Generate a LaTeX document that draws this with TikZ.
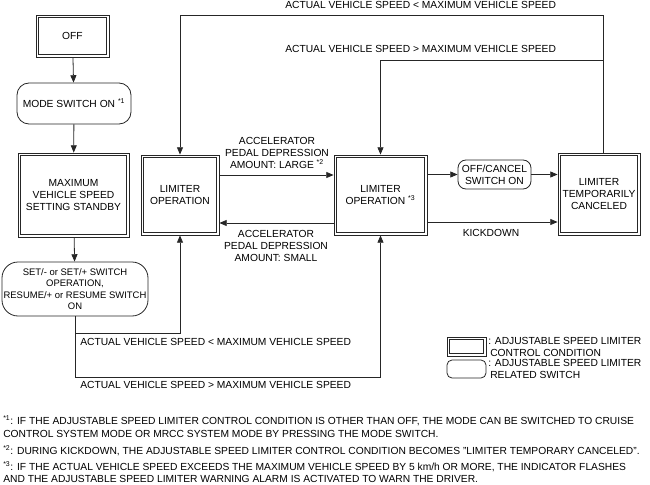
\documentclass[tikz,border=0pt]{standalone}
\usepackage{fontspec}
\setmainfont{Liberation Sans}
\usetikzlibrary{arrows.meta,calc}
\newcommand{\fnm}[1]{\textsuperscript{\fontsize{5.2pt}{5.2pt}\selectfont *#1}}
\begin{document}
\begin{tikzpicture}[x=0.75pt,y=-0.75pt,
  every node/.style={font=\fontsize{7.7pt}{8.8pt}\selectfont, text=black, inner sep=0pt},
  sz/.style 2 args={minimum width=#1*0.75pt, minimum height=#2*0.75pt},
  cond/.style={draw=black!85, line width=0.6pt, align=center},
  inner/.style={draw=black!85, line width=0.6pt},
  sw/.style={draw=black!85, line width=0.6pt, align=center},
  arr/.style={draw=black!85, line width=0.6pt, -{Triangle[length=5.5pt,width=4.5pt]}},
  lbl/.style={align=center},
  fn/.style={anchor=west, align=left}]
\useasboundingbox (0,0) rectangle (650,485);
% condition boxes
\node[cond, sz={73}{42}] (off) at (72.5,36) {OFF};
\node[sw, sz={114}{41}, rounded corners=9pt] (mode) at (74,103.5) {MODE SWITCH ON \fnm{1}};
\node[cond, sz={111}{84}] (maxs) at (73.5,195) {MAXIMUM\\VEHICLE SPEED\\SETTING STANDBY};
\node[cond, sz={78}{80}] (lim1) at (180,195) {LIMITER\\OPERATION};
\node[cond, sz={93}{80}] (lim2) at (380.5,195) {LIMITER\\OPERATION \fnm{3}};
\node[sw, sz={73}{29}, rounded corners=6pt] (offc) at (494.5,174.5) {OFF/CANCEL\\SWITCH ON};
\node[cond, sz={82}{82}] (temp) at (599,194) {LIMITER\\TEMPORARILY\\CANCELED};
\node[sw, sz={146}{54}, rounded corners=12pt, font=\fontsize{7.1pt}{8.6pt}\selectfont] (setn) at (75,289) {SET/- or SET/+ SWITCH\\OPERATION,\\RESUME/+ or RESUME SWITCH\\ON};
% legend boxes
\node[cond, sz={39}{19}] (lg1) at (466.5,346.5) {};
\node[sw, sz={39}{18}, rounded corners=3.75pt] (lg2) at (466.5,369) {};
% inner frames of the condition boxes
\foreach \n in {off,maxs,lim1,lim2,temp,lg1}
  \draw[inner] ($(\n.south west)+(2.8,-2.8)$) rectangle ($(\n.north east)+(-2.8,2.8)$);
% vertical chain
\draw[arr] (off) -- (mode);
\draw[arr] (mode) -- (maxs);
\draw[arr] (maxs) -- (setn);
% bottom loops
\coordinate (b1) at (180,333);
\coordinate (b2) at (380.5,377);
\draw[arr] (setn.south) |- (b1) -- (lim1.south);
\draw[arr] (setn.south) |- (b2) -- (lim2.south);
\node[anchor=west] (lb1) at (80,342) {ACTUAL VEHICLE SPEED < MAXIMUM VEHICLE SPEED};
\node[anchor=west] (lb2) at (80,385) {ACTUAL VEHICLE SPEED > MAXIMUM VEHICLE SPEED};
% top loops
\coordinate (tr) at (603,15);
\coordinate (mr) at (603,60);
\draw[arr] (temp.north -| tr) -- (tr) -| (lim1.north);
\draw[arr] (mr) -| (lim2.north);
\node[anchor=west] (lt1) at (285,5) {ACTUAL VEHICLE SPEED < MAXIMUM VEHICLE SPEED};
\node[anchor=west] (lt2) at (285,49) {ACTUAL VEHICLE SPEED > MAXIMUM VEHICLE SPEED};
% horizontal arrows
\draw[arr] (lim1.east |- 0,175) -- (lim2.west |- 0,175);
\draw[arr] (lim2.west |- 0,223) -- (lim1.east |- 0,223);
\node[lbl] (la) at (277,153) {ACCELERATOR\\PEDAL DEPRESSION\\AMOUNT: LARGE \fnm{2}};
\node[lbl] (ls) at (276,246) {ACCELERATOR\\PEDAL DEPRESSION\\AMOUNT: SMALL};
\draw[arr] (lim2.east |- offc.west) -- (offc.west);
\draw[arr] (offc.east) -- (temp.west |- offc.east);
\draw[arr] (lim2.east |- 0,222) -- (temp.west |- 0,222);
\node (kd) at (491,233) {KICKDOWN};
% legend texts
\node[anchor=west, align=left] (lt3) at (488,347) {: ADJUSTABLE SPEED LIMITER\\\hspace*{1.5pt}CONTROL CONDITION};
\node[anchor=west, align=left] (lt4) at (488,369) {: ADJUSTABLE SPEED LIMITER\\\hspace*{1.5pt}RELATED SWITCH};
% footnotes
\node[fn] (f1) at (3,421) {\fnm{1}: IF THE ADJUSTABLE SPEED LIMITER CONTROL CONDITION IS OTHER THAN OFF, THE MODE CAN BE SWITCHED TO CRUISE};
\node[fn] (f2) at (3,434) {CONTROL SYSTEM MODE OR MRCC SYSTEM MODE BY PRESSING THE MODE SWITCH.};
\node[fn] (f3) at (3,451) {\fnm{2}: DURING KICKDOWN, THE ADJUSTABLE SPEED LIMITER CONTROL CONDITION BECOMES "LIMITER TEMPORARY CANCELED".};
\node[fn] (f4) at (3,467) {\fnm{3}: IF THE ACTUAL VEHICLE SPEED EXCEEDS THE MAXIMUM VEHICLE SPEED BY 5 km/h OR MORE, THE INDICATOR FLASHES};
\node[fn] (f5) at (3,479) {AND THE ADJUSTABLE SPEED LIMITER WARNING ALARM IS ACTIVATED TO WARN THE DRIVER.};
\end{tikzpicture}
\end{document}
